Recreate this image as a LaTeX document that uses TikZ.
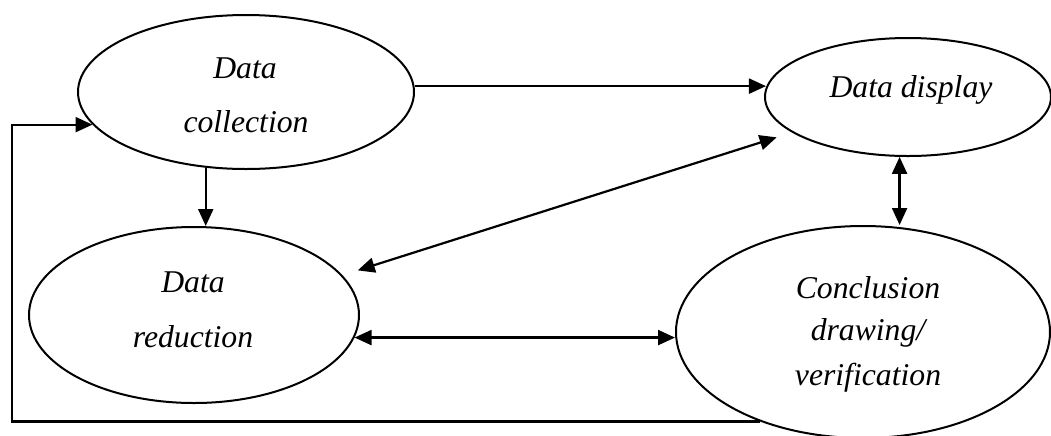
\documentclass[tikz,border=0pt]{standalone}
\usepackage{fontspec}
\setmainfont{Liberation Serif}
\usetikzlibrary{shapes.geometric,arrows.meta}
\tikzset{
  stage/.style={draw, ellipse, line width=1pt, inner sep=0pt, fill=white},
  lbl/.style={anchor=base, inner sep=0pt, font=\fontsize{15.85}{19}\selectfont\itshape},
  link/.style={line width=1.1pt},
  tip/.style={Triangle[length=8.5pt,width=7.5pt]},
  arr/.style={link, -{Triangle[length=8.5pt,width=7.5pt]}},
  dbl/.style={link, {Triangle[length=8.5pt,width=7.5pt]}-{Triangle[length=8.5pt,width=7.5pt]}}
}
\begin{document}
\begin{tikzpicture}[x=0.5pt, y=-0.5pt]
  \useasboundingbox (0,0) rectangle (1051,435);
  \clip (0,0) rectangle (1051,435);

  % the four stages
  \node[stage, minimum width=168pt, minimum height=77pt] (coll) at (246,92) {};
  \node[stage, minimum width=143pt, minimum height=59pt] (disp) at (908,97) {};
  \node[stage, minimum width=165pt, minimum height=88pt] (red)  at (194,315) {};
  \node[stage, minimum width=187pt, minimum height=106pt] (conc) at (863,332) {};

  % stage labels
  \node[lbl] (coll1) at (245,78)  {Data};
  \node[lbl] (coll2) at (246,132) {collection};
  \node[lbl] (disp1) at (911,97)  {Data display};
  \node[lbl] (red1)  at (193,292) {Data};
  \node[lbl] (red2)  at (193,347) {reduction};
  \node[lbl] (conc1) at (868,298) {Conclusion};
  \node[lbl] (conc2) at (868,340) {drawing/};
  \node[lbl] (conc3) at (868,385) {verification};

  % flows between stages
  \draw[arr] (coll.2) -- (coll.2 -| disp.176);
  \draw[arr] (coll.242.5) -- (coll.242.5 |- red.north);
  \draw[dbl, shorten <=8pt, shorten >=8pt] (disp.197) -- (red.15);
  \draw[dbl] (disp.262) -- (disp.262 |- conc.north);
  \draw[dbl] (red.-8) -- (red.-8 -| conc.west);

  % feedback loop back to data collection
  \coordinate (lc) at (12,421);
  \draw[arr] (conc.221) -- (conc.221 -| lc) |- (coll.192);
\end{tikzpicture}
\end{document}
